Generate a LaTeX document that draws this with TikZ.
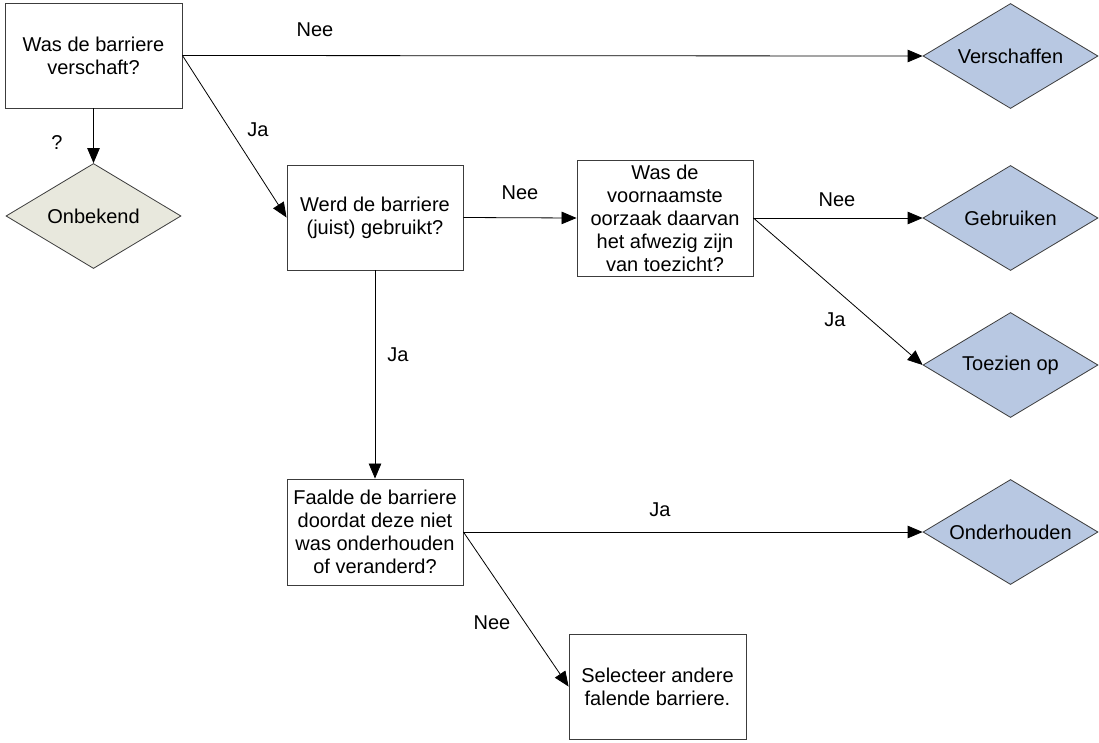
\documentclass[tikz,border=0pt]{standalone}
\usepackage{fontspec}
\setmainfont{Liberation Sans}
\usetikzlibrary{shapes.geometric,arrows.meta}
\definecolor{dblue}{RGB}{184,200,226}
\definecolor{dgray}{RGB}{232,232,221}
\definecolor{edge}{RGB}{60,60,60}
\tikzset{
  every node/.style={font=\fontsize{20}{23}\selectfont},
  qbox/.style={draw=edge, line width=0.9pt, fill=white, rectangle, inner sep=0pt, align=center, minimum width=176pt, minimum height=105pt},
  act/.style={draw=edge, line width=0.8pt, fill=dblue, diamond, aspect=1.667, inner sep=0pt, minimum width=175pt, minimum height=105pt},
  unk/.style={act, fill=dgray},
  conn/.style={draw=black, line width=0.8pt, -{Triangle[length=15pt,width=12.5pt]}},
  lbl/.style={inner sep=0pt}
}
\begin{document}
\begin{tikzpicture}[x=1pt,y=-1pt]
\useasboundingbox (0,0) rectangle (1099,742);
\fill[white] (0,0) rectangle (1099,742);

\node[qbox, minimum width=177pt] (A) at (93.5,55.5) {Was de barriere\\verschaft?};
\node[unk] (U) at (93.5,216) {Onbekend};
\node[act] (V) at (1010.5,56) {Verschaffen};
\node[qbox] (B) at (375,217.5) {Werd de barriere\\(juist) gebruikt?};
\node[qbox, minimum height=116pt] (C) at (665,218) {Was de\\voornaamste\\oorzaak daarvan\\het afwezig zijn\\van toezicht?};
\node[act] (G) at (1010.5,218) {Gebruiken};
\node[act] (T) at (1010.5,365) {Toezien op};
\node[qbox, minimum height=106pt] (D) at (375,532) {Faalde de barriere\\doordat deze niet\\was onderhouden\\of veranderd?};
\node[act] (O) at (1010.5,532) {Onderhouden};
\node[qbox, minimum width=177pt] (E) at (657.5,686.5) {Selecteer andere\\falende barriere.};

\draw[conn] (A.east) -- (V.west);
\draw[conn] (A.east) -- (B.west);
\draw[conn] (A.south) -- (U.north);
\draw[conn] (B.east) -- (C.west);
\draw[conn] (C.east) -- (G.west);
\draw[conn] (C.east) -- (T.west);
\draw[conn] (B.south) -- (D.north);
\draw[conn] (D.east) -- (O.west);
\draw[conn] (D.east) -- (E.west);

\node[lbl] (l1) at (315,30) {Nee};
\node[lbl] (l2) at (258,130) {Ja};
\node[lbl] (l3) at (57,143) {?};
\node[lbl] (l4) at (520,193) {Nee};
\node[lbl] (l5) at (837,200) {Nee};
\node[lbl] (l6) at (835,320) {Ja};
\node[lbl] (l7) at (398,355) {Ja};
\node[lbl] (l8) at (660,510) {Ja};
\node[lbl] (l9) at (492,623) {Nee};
\end{tikzpicture}
\end{document}
